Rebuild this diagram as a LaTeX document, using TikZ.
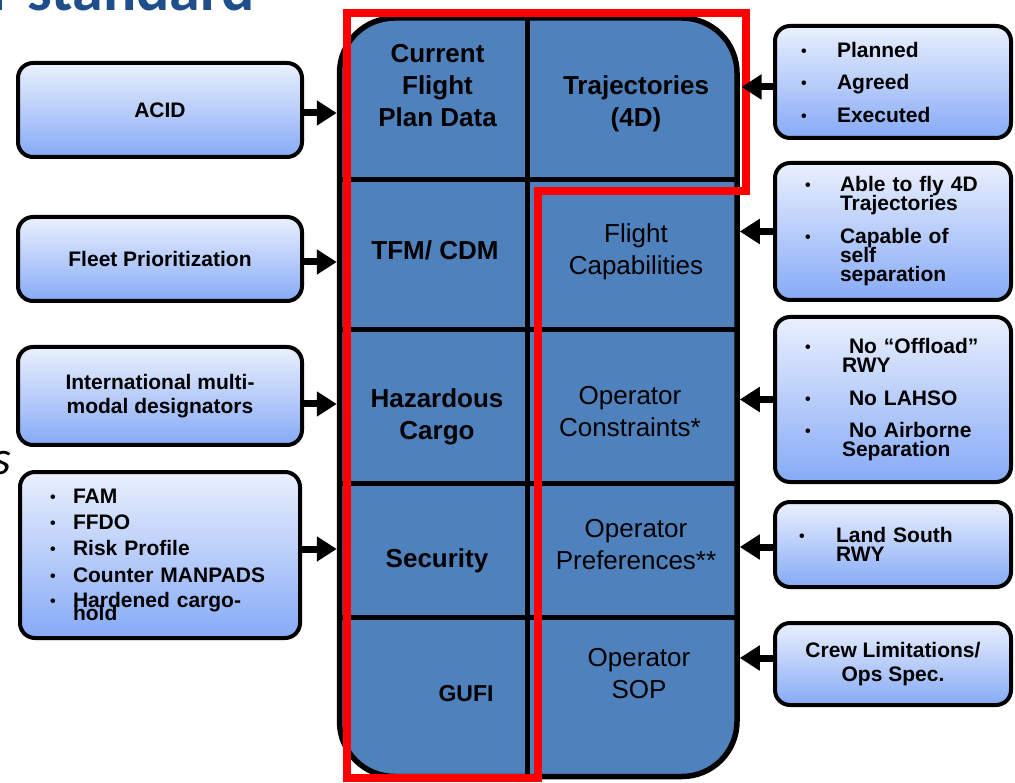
\documentclass[tikz,border=0pt]{standalone}
\usepackage{fontspec}
\setmainfont{Liberation Sans}
\newfontfamily\titlefont{Carlito}
\usetikzlibrary{arrows.meta}
\definecolor{panelblue}{RGB}{79,129,189}
\definecolor{boxtop}{RGB}{234,240,253}
\definecolor{boxbot}{RGB}{134,170,246}
\definecolor{titleblue}{RGB}{31,78,140}
\def\cellfont{\fontsize{26}{32}\selectfont}
\def\boxfont{\fontsize{21}{19}\selectfont\lineskiplimit=-50pt\parindent=0pt\relax}
\def\listfont{\fontsize{21}{13}\selectfont\lineskiplimit=-50pt\parindent=0pt\relax}
\def\bul#1{\makebox[#1][l]{\hspace*{2pt}\raisebox{1pt}{\fontsize{16}{16}\selectfont\textbullet}}}
\def\ind#1{\hspace*{#1}}
\tikzset{
	infobox/.style={draw, line width=4pt, rounded corners=15pt, top color=boxtop, bottom color=boxbot, font=\boxfont\bfseries, inner sep=0pt},
	panel/.style={draw, line width=5.5pt, rounded corners=55pt, fill=panelblue},
	cell/.style={font=\cellfont, align=center, inner sep=0pt},
	cellbold/.style={cell, font=\cellfont\bfseries},
	divider/.style={line width=5pt},
	redline/.style={line width=8pt, color=red, line join=miter},
	feed/.style={line width=7pt, -{Triangle[length=20pt,width=24pt]}},
}
\begin{document}
\begin{tikzpicture}[x=1pt, y=-1pt]
			%%%%% START %%%%%
			\useasboundingbox (0, 0) rectangle (1015, 783);
			
			\node[anchor=base east, inner sep=0pt, text=titleblue, font=\titlefont\bfseries\fontsize{62}{62}\selectfont] (title) at (255, 11) {r standard};
			\node[anchor=base east, inner sep=0pt, font=\titlefont\itshape\fontsize{48}{48}\selectfont] (sfrag) at (11, 475) {s};
			
			% central record
			\node[panel, minimum width=397.5pt, minimum height=758.5pt] (panel) at (538.25, 397.25) {};
			\draw[divider] (527.5, 20) -- (527.5, 774);
			\draw[divider] (342, 180) -- (735, 180);
			\draw[divider] (342, 330) -- (735, 330);
			\draw[divider] (342, 483) -- (735, 483);
			\draw[divider] (342, 617.5) -- (735, 617.5);
			
			\node[cellbold] (cfpd) at (437.5, 86) {Current\\Flight\\Plan Data};
			\node[cellbold] (traj) at (636, 104) {Trajectories\\(4D)};
			\node[cellbold] (tfm) at (435, 250.5) {TFM/ CDM};
			\node[cell] (fcap) at (636, 252) {Flight\\Capabilities};
			\node[cellbold] (hazc) at (437, 417) {Hazardous\\Cargo};
			\node[cell] (ocon) at (630, 412) {Operator\\Constraints*};
			\node[cellbold] (secu) at (437, 561) {Security};
			\node[cell] (opref) at (636, 544.5) {Operator\\Preferences**};
			\node[cellbold, font=\fontsize{23}{28}\selectfont\bfseries] (gufi) at (466, 694) {GUFI};
			\node[cell] (osop) at (639, 673.5) {Operator\\SOP};
			
			% red outline
			\coordinate (rA) at (347, 13);
			\coordinate (rB) at (745.5, 13);
			\coordinate (rC) at (745.5, 191);
			\coordinate (rD) at (538, 191);
			\coordinate (rE) at (538, 777.5);
			\coordinate (rF) at (347, 777.5);
			\draw[redline] (rA) -- (rB) -- (rC) -- (rD) -- (rE) -- (rF) -- cycle;
			
			% inputs on the left
			\node[infobox, minimum width=284pt, minimum height=94pt] (acid) at (160, 110) {ACID};
			\node[infobox, minimum width=284pt, minimum height=84pt] (fleet) at (160, 259) {Fleet Prioritization};
			\node[infobox, minimum width=284pt, minimum height=98pt, align=center] (intl) at (160, 396) {International multi-\\[5pt]modal designators};
			\node[infobox, minimum width=280pt, minimum height=166pt, text width=224pt, align=left, font=\listfont\bfseries] (secitems) at (160, 555) {\bul{25pt}FAM\\[13pt]\bul{25pt}FFDO\\[13pt]\bul{25pt}Risk Profile\\[13.5pt]\bul{25pt}Counter MANPADS\\[12pt]\bul{25pt}Hardened cargo-\\\ind{25pt}hold};
			
			% inputs on the right
			\node[infobox, minimum width=236pt, minimum height=112pt, text width=188pt, align=left] (plan) at (893, 82) {\bul{38pt}Planned\\[13.5pt]\bul{38pt}Agreed\\[13.5pt]\bul{38pt}Executed};
			\node[infobox, minimum width=236pt, minimum height=137pt, text width=180pt, align=left] (capab) at (893, 231.5) {\bul{37pt}Able to fly 4D\\\ind{37pt}Trajectories\\[14pt]\bul{37pt}Capable of\\\ind{37pt}self\\\ind{37pt}separation};
			\node[infobox, minimum width=236pt, minimum height=165pt, text width=180pt, align=left] (constr) at (893, 399.5) {\bul{39pt} No “Offload”\\\ind{39pt}RWY\\[14pt]\bul{39pt} No LAHSO\\[13pt]\bul{39pt} No Airborne\\\ind{39pt}Separation};
			\node[infobox, minimum width=236pt, minimum height=85pt, text width=192pt, align=left] (south) at (893, 544.5) {\bul{39pt}Land South\\\ind{39pt}RWY};
			\node[infobox, minimum width=236pt, minimum height=82pt, align=center] (crew) at (893, 664) {Crew Limitations/\\[4.5pt]Ops Spec.};
			
			% arrows into the record
			\coordinate (acidR) at ([yshift=-3pt]acid.east);
			\coordinate (fleetR) at ([yshift=-3pt]fleet.east);
			\coordinate (intlR) at ([yshift=-8pt]intl.east);
			\coordinate (secR) at ([yshift=6pt]secitems.east);
			\draw[feed] (acidR) -- (acidR -| panel.west);
			\draw[feed] (fleetR) -- (fleetR -| panel.west);
			\draw[feed] (intlR) -- (intlR -| panel.west);
			\draw[feed] (secR) -- (secR -| panel.west);
			
			\coordinate (planL) at ([yshift=-5pt]plan.west);
			\coordinate (southL) at ([yshift=-2.5pt]south.west);
			\coordinate (crewL) at ([yshift=6pt]crew.west);
			\draw[feed, shorten >=-4pt] (planL) -- (planL -| rB);
			\draw[feed] (capab.west) -- (capab.west -| panel.east);
			\draw[feed] (constr.west) -- (constr.west -| panel.east);
			\draw[feed] (southL) -- (southL -| panel.east);
			\draw[feed] (crewL) -- (crewL -| panel.east);
			
			%%%%% END %%%%%
\end{tikzpicture}
\end{document}
